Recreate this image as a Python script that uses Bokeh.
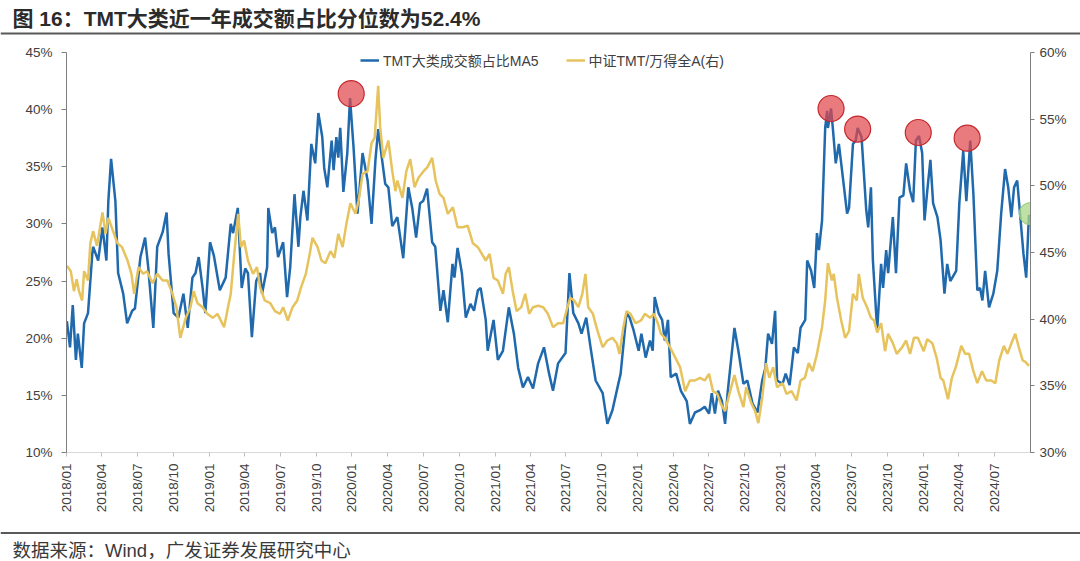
import math
import pandas as pd
from bokeh.plotting import figure
from bokeh.layouts import column
from bokeh.models import (Range1d, LinearAxis, FixedTicker, PrintfTickFormatter,
                          DatetimeTickFormatter, Legend, LegendItem)
from bokeh.embed import file_html
from bokeh.resources import INLINE
from bokeh.core.properties import value

# ---------------- texts ----------------
title_text = "图 16：TMT大类近一年成交额占比分位数为52.4%"
source_text = "数据来源：Wind，广发证券发展研究中心"
share_name = "TMT大类成交额占比MA5"
rel_name = "中证TMT/万得全A(右)"

# ---------------- axes ----------------
tick_labels = ["2018/01", "2018/04", "2018/07", "2018/10", "2019/01", "2019/04", "2019/07",
               "2019/10", "2020/01", "2020/04", "2020/07", "2020/10", "2021/01", "2021/04",
               "2021/07", "2021/10", "2022/01", "2022/04", "2022/07", "2022/10", "2023/01",
               "2023/04", "2023/07", "2023/10", "2024/01", "2024/04", "2024/07"]
left_ticks = [10, 15, 20, 25, 30, 35, 40, 45]
right_ticks = [30, 35, 40, 45, 50, 55, 60]

# ---------------- series: TMT share MA5 (left axis, %) ----------------
share_dates = [
    "2018-01-02", "2018-01-10", "2018-01-17", "2018-01-25", "2018-01-30", "2018-02-09", "2018-02-15",
    "2018-02-25", "2018-03-08", "2018-03-10", "2018-03-23", "2018-04-03", "2018-04-13", "2018-04-18",
    "2018-04-25", "2018-05-06", "2018-05-13", "2018-05-26", "2018-06-05", "2018-06-18", "2018-06-25",
    "2018-07-09", "2018-07-21", "2018-07-29", "2018-08-11", "2018-08-21", "2018-09-04", "2018-09-14",
    "2018-09-19", "2018-10-02", "2018-10-14", "2018-10-27", "2018-11-07", "2018-11-19", "2018-11-27",
    "2018-12-05", "2018-12-15", "2018-12-22", "2019-01-03", "2019-01-13", "2019-01-28", "2019-02-12",
    "2019-02-25", "2019-03-03", "2019-03-15", "2019-03-25", "2019-04-03", "2019-04-10", "2019-04-20",
    "2019-05-01", "2019-05-11", "2019-05-16", "2019-05-29", "2019-06-01", "2019-06-11", "2019-06-18",
    "2019-06-26", "2019-07-09", "2019-07-19", "2019-07-27", "2019-08-07", "2019-08-17", "2019-08-22",
    "2019-08-30", "2019-09-09", "2019-09-19", "2019-09-29", "2019-10-07", "2019-10-17", "2019-10-22",
    "2019-10-30", "2019-11-10", "2019-11-15", "2019-11-22", "2019-11-27", "2019-12-02", "2019-12-10",
    "2019-12-20", "2019-12-27", "2020-01-05", "2020-01-15", "2020-01-28", "2020-02-10", "2020-02-20",
    "2020-03-01", "2020-03-08", "2020-03-18", "2020-03-26", "2020-04-03", "2020-04-13", "2020-04-26",
    "2020-05-11", "2020-05-24", "2020-06-03", "2020-06-13", "2020-06-23", "2020-07-01", "2020-07-11",
    "2020-07-24", "2020-08-01", "2020-08-14", "2020-08-22", "2020-09-02", "2020-09-14", "2020-09-19",
    "2020-09-27", "2020-10-08", "2020-10-18", "2020-10-30", "2020-11-08", "2020-11-18", "2020-11-25",
    "2020-12-08", "2020-12-13", "2020-12-28", "2021-01-08", "2021-01-21", "2021-02-05", "2021-02-18",
    "2021-03-01", "2021-03-13", "2021-03-26", "2021-04-08", "2021-04-21", "2021-05-06", "2021-05-19",
    "2021-05-29", "2021-06-11", "2021-06-30", "2021-07-05", "2021-07-10", "2021-07-20", "2021-08-02",
    "2021-08-10", "2021-08-22", "2021-09-02", "2021-09-15", "2021-10-03", "2021-10-15", "2021-10-28",
    "2021-11-10", "2021-11-18", "2021-12-03", "2021-12-11", "2021-12-21", "2022-01-03", "2022-01-10",
    "2022-01-21", "2022-02-01", "2022-02-08", "2022-02-13", "2022-02-23", "2022-03-04", "2022-03-11",
    "2022-03-19", "2022-03-26", "2022-04-09", "2022-04-21", "2022-05-06", "2022-05-14", "2022-05-27",
    "2022-06-09", "2022-06-21", "2022-07-02", "2022-07-09", "2022-07-17", "2022-07-25", "2022-08-04",
    "2022-08-12", "2022-08-19", "2022-09-05", "2022-09-15", "2022-09-28", "2022-10-08", "2022-10-21",
    "2022-11-03", "2022-11-15", "2022-11-23", "2022-11-30", "2022-12-10", "2022-12-18", "2022-12-23",
    "2023-01-06", "2023-01-14", "2023-01-24", "2023-02-04", "2023-02-14", "2023-02-21", "2023-03-05",
    "2023-03-10", "2023-03-20", "2023-03-28", "2023-04-04", "2023-04-09", "2023-04-17", "2023-04-25",
    "2023-04-30", "2023-05-02", "2023-05-10", "2023-05-15", "2023-05-22", "2023-05-30", "2023-06-07",
    "2023-06-20", "2023-06-25", "2023-07-05", "2023-07-12", "2023-07-17", "2023-07-27", "2023-08-08",
    "2023-08-13", "2023-08-20", "2023-08-25", "2023-09-05", "2023-09-15", "2023-09-20", "2023-09-28",
    "2023-10-03", "2023-10-15", "2023-10-23", "2023-11-01", "2023-11-11", "2023-11-18", "2023-11-28",
    "2023-12-06", "2023-12-13", "2023-12-21", "2023-12-29", "2024-01-04", "2024-01-11", "2024-01-19",
    "2024-01-26", "2024-02-06", "2024-02-14", "2024-02-24", "2024-03-02", "2024-03-10", "2024-03-25",
    "2024-04-02", "2024-04-12", "2024-04-20", "2024-04-30", "2024-05-08", "2024-05-18", "2024-05-25",
    "2024-05-31", "2024-06-07", "2024-06-17", "2024-06-28", "2024-07-08", "2024-07-18", "2024-07-28",
    "2024-08-05", "2024-08-13", "2024-08-20", "2024-08-28", "2024-09-05", "2024-09-13", "2024-09-20",
    "2024-09-27"]
share_values = [
    21.5, 19.2, 22.9, 18.1, 20.4, 17.4, 21.3,
    22.2, 27.4, 28.0, 26.8, 29.7, 26.8, 32.0,
    35.7, 32.0, 25.7, 23.9, 21.3, 22.4, 22.6,
    27.1, 28.8, 26.2, 20.9, 28.0, 29.3, 31.0,
    27.4, 22.2, 21.8, 23.9, 20.9, 25.3, 25.7,
    27.1, 24.4, 22.2, 28.4, 27.2, 24.2, 25.3,
    30.0, 29.2, 31.4, 24.4, 26.1, 25.7, 20.1,
    25.0, 25.7, 23.9, 26.2, 31.4, 29.2, 29.7,
    27.1, 28.4, 23.6, 26.2, 32.6, 28.0, 30.6,
    32.9, 30.3, 37.0, 35.3, 39.7, 37.6, 34.9,
    33.2, 37.3, 34.7, 37.6, 35.8, 38.4, 32.8,
    36.2, 41.0, 36.7, 30.9, 36.2, 33.8, 30.0,
    35.6, 38.3, 35.6, 33.5, 33.2, 29.8, 30.6,
    27.0, 33.2, 31.4, 28.8, 31.8, 32.0, 33.1,
    28.4, 28.0, 22.4, 24.2, 21.4, 26.5, 25.3,
    27.9, 25.7, 21.8, 23.0, 22.4, 24.2, 24.4,
    21.6, 18.9, 21.6, 18.1, 18.9, 22.7, 20.4,
    17.4, 15.7, 16.6, 15.6, 17.8, 19.2, 16.9,
    15.4, 17.8, 18.7, 22.2, 25.7, 22.2, 21.3,
    20.4, 21.8, 19.2, 16.3, 15.2, 12.5, 13.7,
    15.7, 16.9, 22.2, 21.8, 20.7, 18.9, 20.4,
    18.3, 19.8, 18.9, 23.6, 22.2, 21.6, 19.8,
    21.6, 16.6, 16.9, 15.4, 14.5, 12.5, 13.5,
    13.7, 14.0, 13.4, 15.2, 13.4, 15.4, 14.5,
    12.5, 15.4, 20.9, 18.9, 16.0, 16.3, 14.3,
    13.5, 16.3, 17.4, 20.4, 19.5, 22.4, 16.3,
    16.0, 16.9, 15.9, 19.2, 18.7, 20.9, 21.6,
    26.8, 25.9, 24.4, 29.2, 27.7, 30.3, 38.4,
    39.9, 38.4, 40.1, 38.2, 35.3, 37.0, 34.7,
    30.9, 31.4, 37.0, 37.3, 38.4, 37.6, 31.2,
    29.7, 33.2, 26.8, 20.7, 26.5, 24.4, 27.7,
    25.7, 30.6, 25.7, 32.3, 32.5, 35.3, 32.9,
    31.9, 37.3, 37.7, 36.2, 30.3, 32.9, 35.6,
    31.8, 30.6, 28.6, 23.9, 26.5, 25.0, 25.9,
    31.8, 36.4, 32.0, 37.3, 32.6, 24.2, 24.4,
    23.3, 25.9, 22.7, 23.9, 25.9, 30.9, 34.8,
    33.2, 30.6, 33.2, 33.8, 30.6, 27.4, 25.3,
    30.8]

# ---------------- series: CSI TMT / Wind All A (right axis, %) ----------------
rel_dates = [
    "2018-01-02", "2018-01-12", "2018-01-20", "2018-01-27", "2018-02-02", "2018-02-10", "2018-02-15",
    "2018-02-25", "2018-03-03", "2018-03-10", "2018-03-20", "2018-04-03", "2018-04-11", "2018-04-18",
    "2018-04-30", "2018-05-11", "2018-05-23", "2018-06-06", "2018-06-16", "2018-06-23", "2018-07-04",
    "2018-07-16", "2018-07-26", "2018-08-09", "2018-08-21", "2018-09-04", "2018-09-16", "2018-09-29",
    "2018-10-09", "2018-10-19", "2018-11-02", "2018-11-14", "2018-11-22", "2018-12-02", "2018-12-15",
    "2018-12-27", "2019-01-10", "2019-01-22", "2019-02-08", "2019-02-18", "2019-02-25", "2019-03-06",
    "2019-03-16", "2019-03-23", "2019-03-31", "2019-04-10", "2019-04-23", "2019-05-03", "2019-05-11",
    "2019-05-23", "2019-06-06", "2019-06-18", "2019-07-01", "2019-07-09", "2019-07-21", "2019-08-02",
    "2019-08-14", "2019-08-24", "2019-09-05", "2019-09-15", "2019-09-22", "2019-10-05", "2019-10-15",
    "2019-10-25", "2019-11-07", "2019-11-17", "2019-11-27", "2019-12-08", "2019-12-18", "2019-12-28",
    "2020-01-10", "2020-01-18", "2020-01-28", "2020-02-10", "2020-02-20", "2020-02-28", "2020-03-08",
    "2020-03-13", "2020-03-21", "2020-04-03", "2020-04-13", "2020-04-21", "2020-04-26", "2020-05-09",
    "2020-05-19", "2020-05-29", "2020-06-09", "2020-06-19", "2020-07-02", "2020-07-12", "2020-07-24",
    "2020-08-02", "2020-08-12", "2020-08-22", "2020-09-02", "2020-09-15", "2020-09-27", "2020-10-10",
    "2020-10-23", "2020-11-05", "2020-11-18", "2020-11-28", "2020-12-08", "2020-12-18", "2020-12-28",
    "2021-01-08", "2021-01-21", "2021-01-28", "2021-02-05", "2021-02-15", "2021-02-25", "2021-03-09",
    "2021-03-19", "2021-03-29", "2021-04-08", "2021-04-21", "2021-05-04", "2021-05-16", "2021-05-29",
    "2021-06-11", "2021-06-24", "2021-07-05", "2021-07-12", "2021-07-22", "2021-08-02", "2021-08-12",
    "2021-08-20", "2021-08-27", "2021-09-08", "2021-09-20", "2021-10-03", "2021-10-15", "2021-10-28",
    "2021-11-08", "2021-11-15", "2021-11-25", "2021-12-03", "2021-12-13", "2021-12-26", "2022-01-09",
    "2022-01-19", "2022-02-01", "2022-02-11", "2022-02-21", "2022-03-01", "2022-03-11", "2022-03-24",
    "2022-04-07", "2022-04-19", "2022-05-02", "2022-05-14", "2022-05-27", "2022-06-09", "2022-06-21",
    "2022-07-02", "2022-07-12", "2022-07-23", "2022-08-02", "2022-08-12", "2022-08-25", "2022-09-05",
    "2022-09-15", "2022-09-28", "2022-10-05", "2022-10-18", "2022-10-28", "2022-11-05", "2022-11-15",
    "2022-11-25", "2022-12-03", "2022-12-13", "2022-12-23", "2023-01-06", "2023-01-16", "2023-01-29",
    "2023-02-11", "2023-02-21", "2023-03-04", "2023-03-14", "2023-03-24", "2023-04-04", "2023-04-17",
    "2023-04-25", "2023-05-02", "2023-05-12", "2023-05-17", "2023-05-25", "2023-06-05", "2023-06-15",
    "2023-06-25", "2023-07-05", "2023-07-15", "2023-07-20", "2023-07-30", "2023-08-10", "2023-08-20",
    "2023-08-28", "2023-09-05", "2023-09-15", "2023-09-25", "2023-10-03", "2023-10-15", "2023-10-25",
    "2023-11-08", "2023-11-18", "2023-11-28", "2023-12-08", "2023-12-18", "2024-01-02", "2024-01-11",
    "2024-01-24", "2024-02-04", "2024-02-14", "2024-02-21", "2024-02-28", "2024-03-04", "2024-03-14",
    "2024-03-24", "2024-04-07", "2024-04-17", "2024-04-27", "2024-05-08", "2024-05-18", "2024-05-30",
    "2024-06-10", "2024-06-23", "2024-07-03", "2024-07-13", "2024-07-25", "2024-08-03", "2024-08-16",
    "2024-08-23", "2024-09-01", "2024-09-11", "2024-09-18", "2024-09-27"]
rel_values = [
    44.0, 43.6, 42.1, 43.0, 42.1, 41.4, 43.6,
    42.9, 45.7, 46.6, 45.5, 48.0, 46.4, 47.6,
    46.6, 45.7, 45.4, 44.4, 43.4, 41.9, 43.9,
    43.4, 43.6, 42.7, 43.4, 42.9, 42.9, 41.9,
    40.9, 38.6, 40.1, 40.9, 42.1, 41.2, 40.9,
    40.4, 40.1, 40.4, 39.4, 40.9, 41.9, 44.9,
    47.9, 45.4, 45.9, 44.4, 43.4, 43.9, 42.4,
    41.4, 41.2, 40.6, 40.4, 40.9, 39.9, 40.9,
    41.4, 42.4, 43.4, 44.9, 46.1, 45.4, 44.4,
    44.2, 45.1, 44.6, 46.4, 45.4, 47.2, 48.7,
    47.9, 48.9, 50.9, 51.1, 53.2, 53.6, 57.5,
    54.4, 52.1, 53.4, 51.1, 49.6, 50.4, 49.1,
    51.1, 52.0, 49.9, 50.6, 51.1, 51.4, 52.1,
    50.4, 49.4, 49.1, 47.9, 48.4, 46.9, 46.9,
    47.0, 45.7, 45.4, 44.9, 44.4, 44.9, 43.1,
    42.9, 41.9, 43.4, 43.9, 42.1, 40.6, 40.9,
    41.9, 40.4, 40.9, 41.0, 40.9, 40.4, 39.4,
    39.7, 39.7, 40.9, 41.6, 41.4, 40.9, 41.9,
    43.4, 40.9, 40.4, 39.1, 37.9, 38.4, 38.6,
    38.2, 37.4, 39.4, 40.6, 40.4, 39.7, 39.9,
    40.4, 40.1, 40.4, 39.7, 38.9, 38.6, 37.9,
    37.1, 36.4, 34.6, 35.4, 35.4, 35.6, 35.4,
    35.9, 34.6, 34.4, 33.6, 33.1, 34.6, 35.8,
    34.6, 33.4, 34.9, 33.7, 33.1, 32.2, 34.1,
    36.7, 35.6, 36.4, 34.9, 35.2, 34.4, 34.6,
    33.9, 35.4, 35.6, 36.7, 36.1, 37.4, 39.4,
    41.4, 44.2, 42.9, 43.4, 41.6, 39.9, 38.6,
    39.1, 41.9, 41.4, 43.4, 41.6, 40.9, 40.1,
    39.9, 39.0, 39.7, 37.6, 38.9, 38.2, 37.4,
    37.9, 38.4, 37.4, 38.6, 38.6, 37.6, 38.5,
    38.2, 37.1, 35.6, 35.4, 34.6, 34.0, 35.6,
    36.4, 38.0, 37.4, 37.4, 36.1, 35.2, 36.1,
    35.4, 35.4, 35.2, 36.9, 38.0, 37.4, 38.4,
    38.9, 37.9, 36.9, 36.8, 36.5]

# ---------------- highlighted points ----------------
peak_dates = ["2019-12-30", "2023-05-10", "2023-07-17", "2023-12-19", "2024-04-22"]
peak_values = [41.4, 40.1, 38.3, 38.0, 37.5]
latest_dates = ["2024-09-30"]
latest_values = [30.9]

BLUE = "#1F69AC"
YELLOW = "#E6C35C"
FONT = "Liberation Sans, Noto Sans CJK SC"
PAGE_W = 1080

share_x = pd.to_datetime(share_dates)
rel_x = pd.to_datetime(rel_dates)
peak_x = pd.to_datetime(peak_dates)
latest_x = pd.to_datetime(latest_dates)
tick_ms = [pd.Timestamp(t.replace("/", "-") + "-01").value / 1e6 for t in tick_labels]


def strip(height):
    f = figure(width=PAGE_W, height=height, x_range=Range1d(0, PAGE_W), y_range=Range1d(height, 0),
               output_backend="svg", toolbar_location=None, min_border=0,
               min_border_left=0, min_border_right=0, min_border_top=0, min_border_bottom=0,
               x_axis_location=None, y_axis_location=None, title=None, frame_align=False)
    f.outline_line_color = None
    f.xgrid.visible = False
    f.ygrid.visible = False
    f.background_fill_color = "white"
    f.border_fill_color = "white"
    return f


# ---- title strip ----
top = strip(35)
top.text(x=[12], y=[17.5], text=[title_text], text_font=value(FONT), text_font_size="21px",
         text_font_style="bold", text_color="#2b2b2b", text_baseline="middle", text_align="left")
top.line(x=[0, PAGE_W], y=[33, 33], line_color="#595959", line_width=2)

# ---- main chart ----
p = figure(width=PAGE_W, height=496, x_axis_type="datetime",
           x_range=Range1d(pd.Timestamp("2018-01-01"), pd.Timestamp("2024-10-01")),
           y_range=Range1d(10, 45), output_backend="svg", toolbar_location=None,
           min_border_left=66, min_border_right=50, min_border_top=17, min_border_bottom=79,
           title=None, frame_align=False)
p.outline_line_color = None
p.background_fill_color = "white"
p.border_fill_color = "white"
p.xgrid.visible = False
p.ygrid.visible = False
p.extra_y_ranges = {"right": Range1d(30, 60)}

ly = p.yaxis[0]
ly.ticker = FixedTicker(ticks=left_ticks)
ly.formatter = PrintfTickFormatter(format="%d%%")
ry = LinearAxis(y_range_name="right", ticker=FixedTicker(ticks=right_ticks),
                formatter=PrintfTickFormatter(format="%d%%"))
p.add_layout(ry, "right")
for ax, out, stand in ((ly, 5, 9), (ry, 4, 5)):
    ax.axis_line_color = "#7f7f7f"
    ax.major_tick_line_color = "#7f7f7f"
    ax.major_tick_out = out
    ax.major_tick_in = 0
    ax.minor_tick_out = 0
    ax.minor_tick_in = 0
    ax.major_label_standoff = stand
    ax.major_label_text_font = "Liberation Sans"
    ax.major_label_text_font_size = "13.5px"
    ax.major_label_text_color = "#404040"

bx = p.xaxis[0]
bx.ticker = FixedTicker(ticks=tick_ms)
fmt = "%Y/%m"
bx.formatter = DatetimeTickFormatter(years=fmt, months=fmt, days=fmt, hours=fmt, minutes=fmt,
                                     hourmin=fmt, seconds=fmt, minsec=fmt, milliseconds=fmt,
                                     microseconds=fmt)
bx.axis_line_color = "#d9d9d9"
bx.major_tick_line_color = "#bfbfbf"
bx.major_tick_out = 4
bx.major_tick_in = 0
bx.minor_tick_out = 0
bx.minor_tick_in = 0
bx.major_label_orientation = math.pi / 2
bx.major_label_standoff = 7
bx.major_label_text_font = "Liberation Sans"
bx.major_label_text_font_size = "13.5px"
bx.major_label_text_color = "#404040"

r_share = p.line(share_x, share_values, line_color=BLUE, line_width=2.5)
r_rel = p.line(rel_x, rel_values, line_color=YELLOW, line_width=2.5, y_range_name="right")
p.scatter(peak_x, peak_values, marker="circle", size=26, fill_color="#E0474B", fill_alpha=0.72,
          line_color="#C4282D", line_width=1.2)
p.scatter(latest_x, latest_values, marker="circle", size=22, fill_color="#A9D886", fill_alpha=0.75,
          line_color="#93C872", line_width=1)

legend = Legend(items=[LegendItem(label=value(share_name), renderers=[r_share]),
                       LegendItem(label=value(rel_name), renderers=[r_rel])],
                orientation="horizontal", location=(294, 382), margin=0, padding=2,
                border_line_color=None, background_fill_alpha=0,
                label_text_font=FONT, label_text_font_size="14px",
                label_text_color="#404040", glyph_width=19, glyph_height=14,
                label_standoff=4, spacing=27, label_height=16)
p.add_layout(legend)

# ---- source strip ----
bottom = strip(29)
bottom.line(x=[0, PAGE_W], y=[1.5, 1.5], line_color="#595959", line_width=2)
bottom.text(x=[12], y=[18.5], text=[source_text], text_font=value(FONT), text_font_size="18.5px",
            text_color="#3a3a3a", text_baseline="middle", text_align="left")

layout = column(top, p, bottom, spacing=0)
open("out.html", "w").write(file_html(layout, INLINE))
